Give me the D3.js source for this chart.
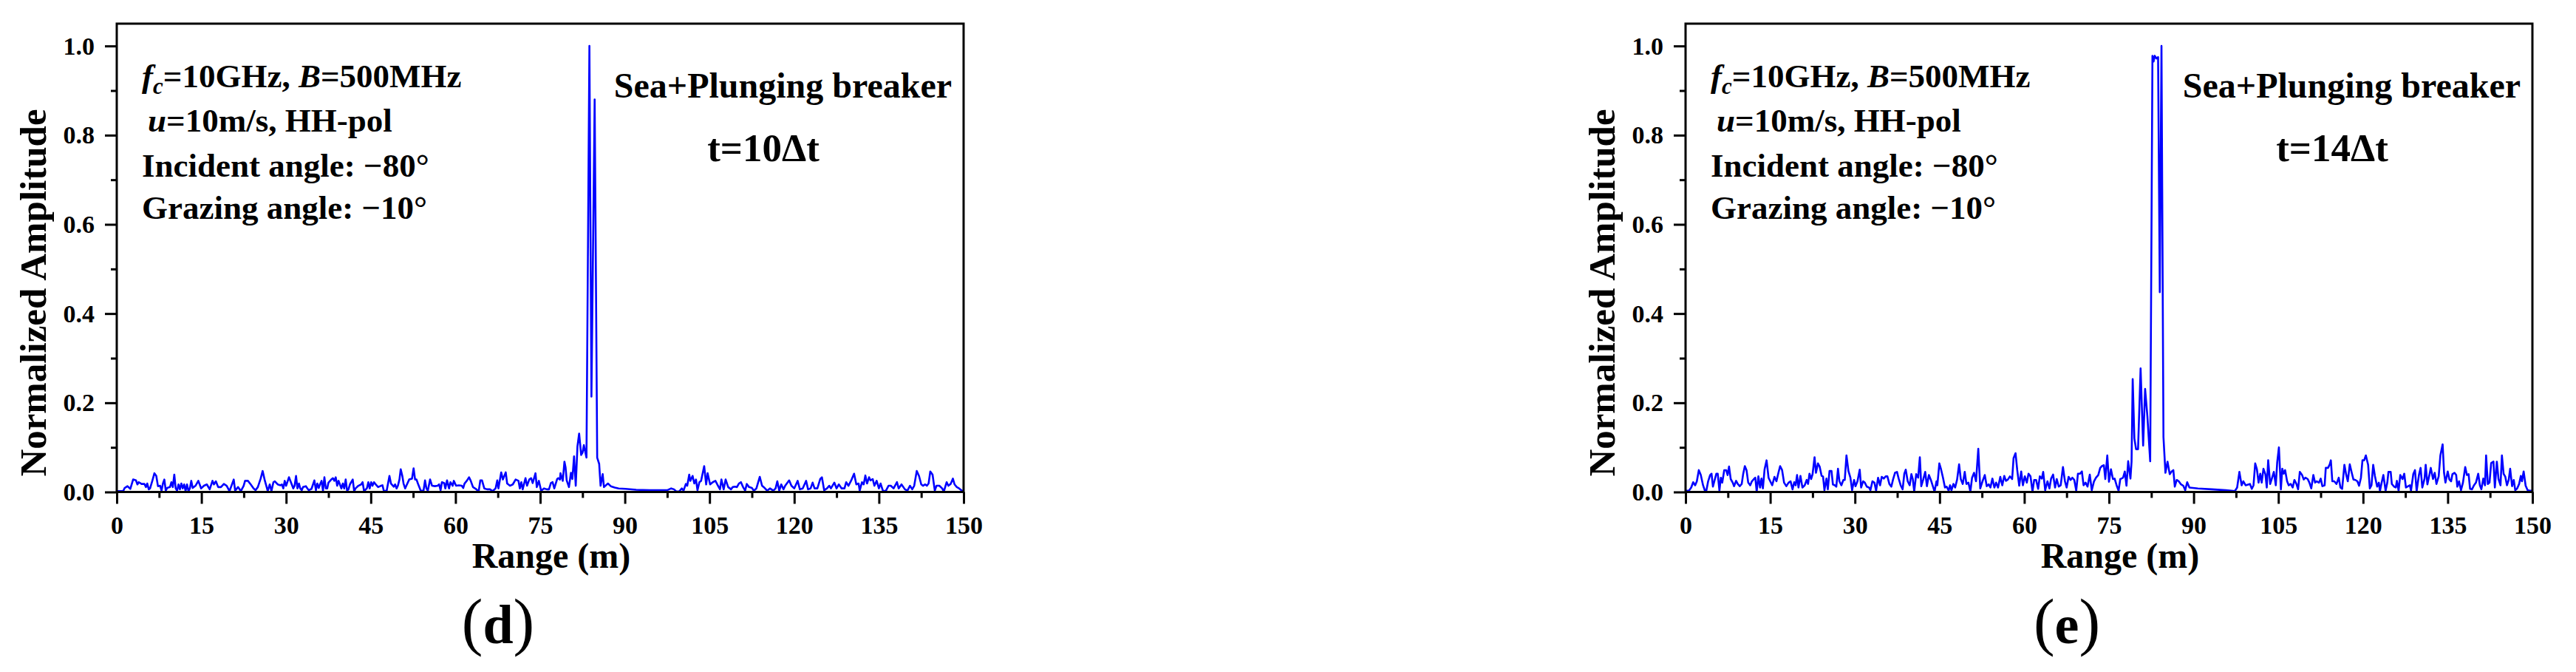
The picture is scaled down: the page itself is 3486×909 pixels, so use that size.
<!DOCTYPE html>
<html>
<head>
<meta charset="utf-8">
<script src="https://cdnjs.cloudflare.com/ajax/libs/d3/7.8.5/d3.min.js"></script>
<style>
  body { margin: 0; background: #fff; }
  svg { display: block; }
  text { font-family: "Liberation Serif", "Times New Roman", serif; font-weight: bold; fill: #000; }
</style>
</head>
<body>
<div id="chart"></div>
<script>
// tick values of both panels
var rangeTicks = [0, 15, 30, 45, 60, 75, 90, 105, 120, 135, 150];
var rangeMinor = [7.5, 22.5, 37.5, 52.5, 67.5, 82.5, 97.5, 112.5, 127.5, 142.5];
var ampTicks = [0, 0.2, 0.4, 0.6, 0.8, 1.0];
var ampMinor = [0.1, 0.3, 0.5, 0.7, 0.9];

// panel labels
var panelLetters = ["d", "e"];
var timeLabels = ["t=10\u0394t", "t=14\u0394t"];

// range profile at t=10dt : [range (m), normalized amplitude]
var profileD = [[0,.002],[1.15,.002],[1.4,.009],[1.9,.013],[2.4,.007],[2.9,.028],[3.4,.026],[3.66,.017],[3.9,.022],[4.4,.018],[4.9,.018],[5.17,.011],[5.4,.019],[5.67,.006],[5.9,.008],[6.3,.025],[6.67,.042],[7.0,.036],[7.3,.013],[7.68,.014],[7.93,.003],[8.18,.019],[8.43,.028],[8.68,.003],[8.93,.009],[9.43,.011],[9.68,.022],[9.93,.011],[10.19,.039],[10.44,.008],[10.69,.003],[10.94,.017],[11.19,.006],[11.44,.019],[11.69,.008],[11.94,.017],[12.19,.002],[12.44,.017],[12.7,.002],[12.95,.008],[13.2,.025],[13.45,.009],[13.95,.014],[14.45,.025],[14.95,.008],[15.45,.014],[15.96,.017],[16.46,.006],[16.96,.025],[17.21,.017],[17.56,.024],[17.96,.011],[18.46,.011],[18.97,.018],[19.47,.014],[19.97,.002],[20.47,.019],[20.72,.028],[20.97,.003],[21.48,.011],[21.98,.002],[22.48,.014],[22.73,.025],[23.23,.025],[23.73,.017],[24.24,.008],[24.59,.004],[24.99,.011],[25.49,.030],[25.84,.047],[26.24,.025],[26.49,.014],[26.74,.002],[27.1,.017],[27.4,.002],[27.75,.022],[28.0,.024],[28.5,.017],[29.0,.015],[29.25,.017],[29.5,.008],[29.75,.025],[30.0,.014],[30.5,.033],[31.0,.017],[31.26,.008],[31.5,.014],[31.76,.036],[32.0,.008],[32.27,.019],[32.5,.008],[32.77,.004],[33.0,.011],[33.5,.013],[33.77,.008],[34.0,.004],[34.5,.007],[35.0,.026],[35.28,.004],[35.53,.019],[35.78,.009],[36.0,.017],[36.28,.025],[36.53,.003],[36.78,.033],[37.03,.008],[37.28,.008],[37.5,.021],[38.0,.028],[38.29,.031],[38.54,.025],[38.79,.033],[39.04,.014],[39.29,.025],[39.79,.008],[40.04,.019],[40.29,.008],[40.55,.028],[40.8,.003],[41.05,.006],[41.3,.017],[41.8,.028],[42.05,.002],[42.3,.008],[42.8,.014],[43.3,.017],[43.55,.022],[43.8,.002],[44.3,.008],[44.56,.022],[44.8,.008],[45.06,.022],[45.3,.014],[45.56,.022],[45.8,.018],[46.3,.011],[46.8,.014],[47.07,.015],[47.3,.003],[47.8,.002],[48.3,.036],[48.57,.019],[49.07,.012],[49.3,.017],[49.57,.008],[49.8,.014],[50.07,.028],[50.3,.051],[50.58,.036],[50.8,.019],[51.08,.008],[51.3,.014],[51.8,.028],[52.3,.030],[52.58,.053],[52.84,.028],[53.09,.028],[53.34,.019],[53.84,.003],[54.34,.003],[54.6,.026],[54.85,.008],[55.1,.003],[55.5,.028],[55.85,.014],[56.35,.013],[56.85,.014],[57.1,.017],[57.36,.004],[57.6,.022],[58.0,.020],[58.2,.008],[58.5,.026],[58.86,.008],[59.1,.022],[59.5,.014],[59.7,.025],[60.1,.014],[60.6,.015],[61.1,.014],[61.37,.009],[61.6,.019],[62.0,.025],[62.4,.033],[62.7,.025],[63.1,.011],[63.6,.007],[64.1,.001],[64.4,.026],[64.7,.026],[65.1,.008],[65.6,.006],[66.1,.006],[66.6,.002],[67.1,.008],[67.4,.026],[67.6,.008],[68.1,.044],[68.4,.028],[68.9,.044],[69.15,.019],[69.65,.014],[70.15,.017],[70.65,.028],[71.16,.025],[71.4,.008],[71.66,.022],[71.9,.006],[72.4,.031],[72.67,.014],[73.07,.028],[73.4,.031],[73.67,.020],[74.17,.042],[74.4,.011],[74.77,.025],[75.17,.003],[75.67,.008],[76.17,.006],[76.56,.006],[76.9,.020],[77.2,.022],[77.5,.008],[78.0,.029],[78.2,.031],[78.5,.028],[78.6,.042],[78.8,.033],[79.0,.025],[79.3,.068],[79.5,.055],[79.7,.026],[80.1,.011],[80.45,.043],[80.7,.029],[81.0,.080],[81.3,.014],[81.6,.102],[81.9,.131],[82.26,.083],[82.5,.088],[82.74,.105],[83.2,.077],[83.72,1.0],[84.08,.214],[84.65,.88],[85.1,.077],[85.45,.063],[85.7,.014],[86.07,.040],[86.3,.011],[87.0,.019],[87.5,.013],[88.2,.010],[88.9,.008],[90.1,.007],[92.0,.005],[94.4,.004],[97.5,.004],[98.2,.008],[98.7,.006],[99.15,.001],[99.6,.001],[100.1,.008],[100.4,.003],[100.8,.018],[101.05,.014],[101.4,.039],[101.6,.025],[102.0,.036],[102.3,.019],[102.6,.028],[102.86,.004],[103.2,.022],[103.5,.025],[104.05,.058],[104.4,.017],[104.66,.042],[105.1,.017],[105.57,.022],[106.04,.025],[106.5,.014],[106.85,.006],[107.1,.028],[107.5,.006],[107.85,.028],[108.3,.011],[108.8,.006],[109.1,.011],[109.5,.012],[109.85,.011],[110.2,.019],[110.56,.022],[110.94,.011],[111.3,.003],[111.6,.018],[112.0,.011],[112.5,.009],[112.84,.003],[113.3,.008],[113.9,.034],[114.3,.014],[114.76,.009],[115.2,.003],[115.7,.008],[116.3,.003],[116.7,.008],[117.0,.024],[117.35,.003],[117.7,.017],[118.1,.006],[118.4,.014],[119.1,.026],[119.5,.014],[120.0,.008],[120.6,.025],[121.0,.006],[121.5,.008],[122.1,.025],[122.45,.006],[122.9,.008],[123.26,.021],[123.6,.008],[124.1,.008],[124.6,.029],[124.9,.033],[125.3,.004],[125.8,.008],[126.2,.014],[126.5,.008],[127.1,.021],[127.5,.008],[127.9,.017],[128.4,.008],[128.9,.008],[129.2,.022],[129.6,.014],[130.06,.025],[130.6,.041],[131.0,.017],[131.4,.019],[131.6,.003],[132.0,.022],[132.3,.017],[132.6,.037],[132.9,.019],[133.25,.033],[133.5,.026],[133.9,.029],[134.2,.014],[134.6,.025],[135.0,.008],[135.3,.019],[135.7,.003],[136.2,.002],[136.7,.014],[137.1,.014],[137.6,.008],[138.2,.022],[138.5,.008],[139.0,.017],[139.6,.006],[140.05,.003],[140.5,.014],[140.9,.006],[141.25,.014],[141.7,.047],[142.1,.036],[142.5,.017],[142.8,.014],[143.2,.017],[143.5,.014],[143.8,.019],[144.1,.046],[144.5,.039],[144.9,.003],[145.2,.014],[145.7,.014],[146.2,.008],[146.5,.001],[147.0,.022],[147.3,.014],[147.7,.018],[148.1,.030],[148.4,.017],[148.8,.011],[149.2,.008],[149.8,.002],[150,.002]];

// range profile at t=14dt
var profileE = [[0,.003],[0.6,.003],[1.0,.010],[1.35,.022],[1.7,.015],[2.0,.024],[2.35,.049],[2.7,.038],[3.1,.015],[3.45,.002],[3.7,.004],[4.0,.024],[4.35,.038],[4.6,.041],[4.85,.012],[5.1,.024],[5.45,.041],[5.7,.041],[6.0,.003],[6.25,.032],[6.5,.021],[6.85,.049],[7.2,.049],[7.45,.038],[7.7,.057],[8.0,.029],[8.35,.021],[8.6,.013],[8.95,.025],[9.25,.018],[9.6,.013],[9.95,.018],[10.2,.040],[10.5,.058],[10.8,.049],[11.1,.021],[11.45,.015],[11.75,.024],[12.1,.029],[12.35,.032],[12.6,.001],[12.9,.035],[13.2,.010],[13.45,.030],[13.7,.008],[14.0,.051],[14.35,.071],[14.7,.032],[15.0,.024],[15.35,.015],[15.75,.034],[16.1,.024],[16.45,.043],[16.75,.058],[17.1,.049],[17.45,.021],[17.85,.013],[18.25,.021],[18.6,.024],[18.95,.006],[19.25,.022],[19.5,.015],[19.75,.038],[20.0,.010],[20.35,.036],[20.7,.010],[21.1,.015],[21.45,.027],[21.7,.018],[21.95,.041],[22.25,.029],[22.5,.040],[22.85,.078],[23.1,.043],[23.45,.064],[23.75,.057],[24.1,.036],[24.35,.035],[24.6,.004],[24.95,.030],[25.2,.006],[25.5,.047],[25.85,.047],[26.1,.017],[26.45,.015],[26.7,.012],[27.0,.052],[27.25,.024],[27.6,.015],[27.95,.027],[28.2,.027],[28.5,.082],[28.85,.047],[29.2,.032],[29.5,.004],[29.85,.027],[30.1,.013],[30.45,.024],[30.85,.050],[31.1,.010],[31.45,.024],[31.75,.021],[32.1,.012],[32.5,.010],[32.75,.004],[33.1,.024],[33.45,.021],[33.75,.003],[34.1,.032],[34.45,.015],[34.75,.034],[35.1,.030],[35.45,.035],[35.75,.035],[36.1,.018],[36.45,.012],[36.75,.028],[37.1,.043],[37.45,.045],[37.75,.030],[38.1,.015],[38.45,.006],[38.75,.041],[39.0,.050],[39.35,.024],[39.7,.015],[40.0,.040],[40.25,.029],[40.5,.001],[40.85,.040],[41.2,.032],[41.5,.078],[41.75,.013],[42.1,.028],[42.45,.045],[42.75,.013],[43.1,.038],[43.45,.027],[43.75,.015],[44.1,.001],[44.45,.024],[44.6,.015],[44.95,.064],[45.25,.051],[45.6,.032],[45.95,.010],[46.25,.012],[46.6,.003],[46.85,.015],[47.1,.004],[47.45,.018],[47.75,.010],[48.1,.028],[48.45,.062],[48.75,.029],[49.1,.018],[49.45,.045],[49.75,.018],[50.1,.021],[50.45,.001],[50.75,.032],[51.1,.043],[51.45,.024],[51.85,.097],[52.2,.008],[52.6,.024],[53.0,.038],[53.35,.013],[53.7,.017],[54.0,.010],[54.35,.030],[54.7,.010],[55.0,.021],[55.35,.010],[55.75,.034],[56.1,.015],[56.45,.036],[56.75,.025],[57.1,.028],[57.45,.035],[57.85,.029],[58.1,.076],[58.45,.087],[58.75,.049],[59.1,.014],[59.45,.046],[59.75,.015],[60.1,.035],[60.45,.021],[60.75,.041],[61.1,.035],[61.45,.001],[61.75,.027],[62.1,.027],[62.45,.007],[62.75,.035],[63.1,.030],[63.35,.045],[63.7,.004],[64.1,.024],[64.45,.008],[64.75,.030],[65.1,.039],[65.45,.010],[65.75,.029],[66.1,.012],[66.45,.015],[66.85,.056],[67.2,.024],[67.5,.010],[67.85,.034],[68.2,.027],[68.5,.032],[68.85,.027],[69.2,.003],[69.5,.041],[69.85,.041],[70.2,.046],[70.5,.015],[70.85,.021],[71.2,.012],[71.6,.039],[71.95,.004],[72.35,.024],[72.7,.032],[73.1,.038],[73.45,.054],[73.75,.058],[74.1,.060],[74.35,.029],[74.7,.082],[75.0,.023],[75.35,.051],[75.7,.029],[76.0,.030],[76.35,.015],[76.7,.003],[77.0,.029],[77.2,.030],[77.5,.032],[77.8,.046],[78.1,.014],[78.4,.069],[78.8,.030],[79.0,.068],[79.2,.253],[79.5,.12],[79.8,.096],[80.15,.096],[80.6,.277],[81.05,.104],[81.4,.231],[81.8,.17],[82.3,.069],[82.7,.978],[82.9,.965],[83.1,.978],[83.4,.972],[83.7,.975],[84.0,.448],[84.3,1.0],[84.65,.123],[85.0,.043],[85.37,.068],[85.76,.040],[86.1,.046],[86.4,.049],[86.66,.012],[87.0,.027],[87.36,.024],[87.76,.017],[88.16,.014],[88.5,.004],[88.85,.022],[89.25,.010],[90.75,.008],[93.2,.006],[95.7,.004],[97.3,.002],[97.7,.010],[98.1,.045],[98.5,.015],[98.8,.024],[99.2,.015],[99.97,.018],[100.3,.007],[100.6,.015],[100.9,.064],[101.2,.051],[101.5,.021],[101.8,.041],[102.05,.021],[102.36,.052],[102.7,.040],[102.95,.010],[103.2,.071],[103.55,.018],[103.85,.030],[104.2,.045],[104.55,.015],[104.8,.067],[105.1,.100],[105.45,.006],[105.7,.052],[105.95,.041],[106.2,.049],[106.55,.024],[106.84,.015],[107.2,.018],[107.54,.010],[107.84,.027],[108.2,.018],[108.5,.006],[108.8,.045],[109.2,.038],[109.5,.028],[109.8,.032],[110.2,.029],[110.5,.021],[110.83,.008],[111.2,.038],[111.5,.021],[111.8,.024],[112.2,.021],[112.5,.030],[112.8,.013],[113.2,.015],[113.4,.054],[113.8,.054],[114.1,.062],[114.3,.071],[114.56,.024],[114.9,.024],[115.3,.018],[115.7,.032],[116.0,.010],[116.3,.007],[116.7,.061],[117.0,.040],[117.3,.024],[117.65,.062],[118.0,.043],[118.3,.028],[118.65,.027],[119.0,.024],[119.3,.014],[119.63,.032],[119.9,.071],[120.2,.071],[120.5,.082],[120.9,.061],[121.2,.008],[121.5,.015],[121.8,.061],[122.1,.036],[122.5,.012],[122.8,.021],[123.0,.002],[123.3,.021],[123.6,.038],[124.0,.003],[124.3,.021],[124.5,.045],[124.9,.045],[125.1,.018],[125.5,.012],[125.8,.010],[126.0,.025],[126.3,.003],[126.6,.038],[127.0,.029],[127.3,.041],[127.6,.010],[128.0,.013],[128.3,.015],[128.5,.003],[128.9,.040],[129.2,.049],[129.5,.002],[129.9,.038],[130.2,.054],[130.5,.010],[130.9,.030],[131.1,.061],[131.4,.017],[131.7,.035],[132.0,.054],[132.4,.029],[132.7,.043],[133.0,.018],[133.4,.035],[133.7,.082],[134.1,.107],[134.35,.043],[134.6,.021],[135.0,.046],[135.3,.028],[135.6,.024],[135.84,.040],[136.2,.043],[136.5,.038],[136.7,.012],[137.0,.024],[137.35,.004],[137.7,.021],[138.1,.056],[138.4,.038],[138.7,.040],[138.96,.007],[139.3,.006],[139.65,.015],[140.0,.021],[140.4,.041],[140.7,.015],[140.96,.006],[141.3,.030],[141.6,.015],[141.8,.082],[142.1,.018],[142.4,.021],[142.7,.065],[143.1,.068],[143.35,.010],[143.7,.068],[144.0,.029],[144.35,.015],[144.6,.082],[144.9,.041],[145.2,.034],[145.5,.015],[145.8,.027],[146.06,.052],[146.4,.013],[146.7,.027],[146.96,.004],[147.3,.008],[147.65,.018],[147.95,.036],[148.15,.024],[148.45,.046],[148.8,.014],[149.15,.004],[149.55,.003],[150,.003]];

var profiles = [profileD, profileE];

// page and plot box
var W = 3486, H = 909;
var boxW = 1146, boxTop = 32, boxBottom = 665.5;
var panelLeft = [158, 2281];

var svg = d3.select("#chart").append("svg")
  .attr("width", W)
  .attr("height", H);

svg.append("rect").attr("width", W).attr("height", H).attr("fill", "#fff");

var x = d3.scaleLinear().domain([0, 150]).range([0, boxW]);
var y = d3.scaleLinear().domain([0, 1.05]).range([boxBottom - boxTop, 0]);
var plotH = boxBottom - boxTop;

// style an axis group: thick black lines and big bold serif labels
function styleAxis(g, fs) {
  g.attr("font-family", null).attr("font-size", null);
  g.select(".domain").remove();
  g.selectAll(".tick line").attr("stroke", "#000").attr("stroke-width", 3);
  g.selectAll(".tick text").style("font-size", fs + "px");
}

panelLeft.forEach(function(left, i) {
  var g = svg.append("g")
    .attr("transform", "translate(" + left + "," + boxTop + ")");

  // the range profile
  var line = d3.line()
    .x(function(d) { return x(d[0]); })
    .y(function(d) { return y(d[1]); });

  g.append("path")
    .datum(profiles[i])
    .attr("fill", "none")
    .attr("stroke", "#0000ff")
    .attr("stroke-width", 2.6)
    .attr("stroke-linejoin", "round")
    .attr("d", line);

  // x axis: major + minor ticks
  g.append("g")
    .attr("transform", "translate(0," + plotH + ")")
    .call(d3.axisBottom(x).tickValues(rangeTicks).tickSize(16).tickSizeOuter(0).tickPadding(16).tickFormat(d3.format("d")))
    .call(styleAxis, 34);
  g.append("g")
    .attr("transform", "translate(0," + plotH + ")")
    .call(d3.axisBottom(x).tickValues(rangeMinor).tickSize(8).tickSizeOuter(0).tickFormat(""))
    .call(styleAxis, 34);

  // y axis: major + minor ticks
  g.append("g")
    .call(d3.axisLeft(y).tickValues(ampTicks).tickSize(16).tickSizeOuter(0).tickPadding(14).tickFormat(d3.format(".1f")))
    .call(styleAxis, 34);
  g.append("g")
    .call(d3.axisLeft(y).tickValues(ampMinor).tickSize(8).tickSizeOuter(0).tickFormat(""))
    .call(styleAxis, 34);

  // frame
  g.append("rect")
    .attr("x", 0).attr("y", 0)
    .attr("width", boxW).attr("height", plotH)
    .attr("fill", "none")
    .attr("stroke", "#000")
    .attr("stroke-width", 3);

  // axis titles
  g.append("text")
    .attr("transform", "translate(-96," + (396 - boxTop) + ") rotate(-90)")
    .attr("text-anchor", "middle")
    .style("font-size", "51px")
    .text("Normalized Amplitude");

  g.append("text")
    .attr("x", 588).attr("y", 768 - boxTop)
    .attr("text-anchor", "middle")
    .style("font-size", "48px")
    .text("Range (m)");

  // simulation settings
  var notes = g.append("g").attr("transform", "translate(34,0)");
  var l1 = notes.append("text").attr("x", 0).attr("y", 118 - boxTop).style("font-size", "45px");
  l1.append("tspan").style("font-style", "italic").text("f");
  l1.append("tspan").style("font-style", "italic").style("font-size", "31px").attr("dy", 9).text("c");
  l1.append("tspan").attr("dy", -9).text("=10GHz, ");
  l1.append("tspan").style("font-style", "italic").text("B");
  l1.append("tspan").text("=500MHz");

  var l2 = notes.append("text").attr("x", 8).attr("y", 178 - boxTop).style("font-size", "45px");
  l2.append("tspan").style("font-style", "italic").text("u");
  l2.append("tspan").text("=10m/s, HH-pol");

  notes.append("text").attr("x", 0).attr("y", 239 - boxTop).style("font-size", "45px")
    .text("Incident angle: \u221280\u00b0");
  notes.append("text").attr("x", 0).attr("y", 296 - boxTop).style("font-size", "45px")
    .text("Grazing angle: \u221210\u00b0");

  g.append("text")
    .attr("x", boxW - 16).attr("y", 132 - boxTop)
    .attr("text-anchor", "end")
    .style("font-size", "48px")
    .text("Sea+Plunging breaker");

  g.append("text")
    .attr("x", 875).attr("y", 218 - boxTop)
    .attr("text-anchor", "middle")
    .style("font-size", "53px")
    .text(timeLabels[i]);

  // panel letter
  var lab = g.append("text")
    .attr("x", 516).attr("y", 870 - boxTop)
    .attr("text-anchor", "middle")
    .style("font-size", "74px");
  lab.append("tspan").style("font-weight", "normal").style("font-size", "86px").text("(");
  lab.append("tspan").text(panelLetters[i]);
  lab.append("tspan").style("font-weight", "normal").style("font-size", "86px").text(")");
});
</script>
</body>
</html>
